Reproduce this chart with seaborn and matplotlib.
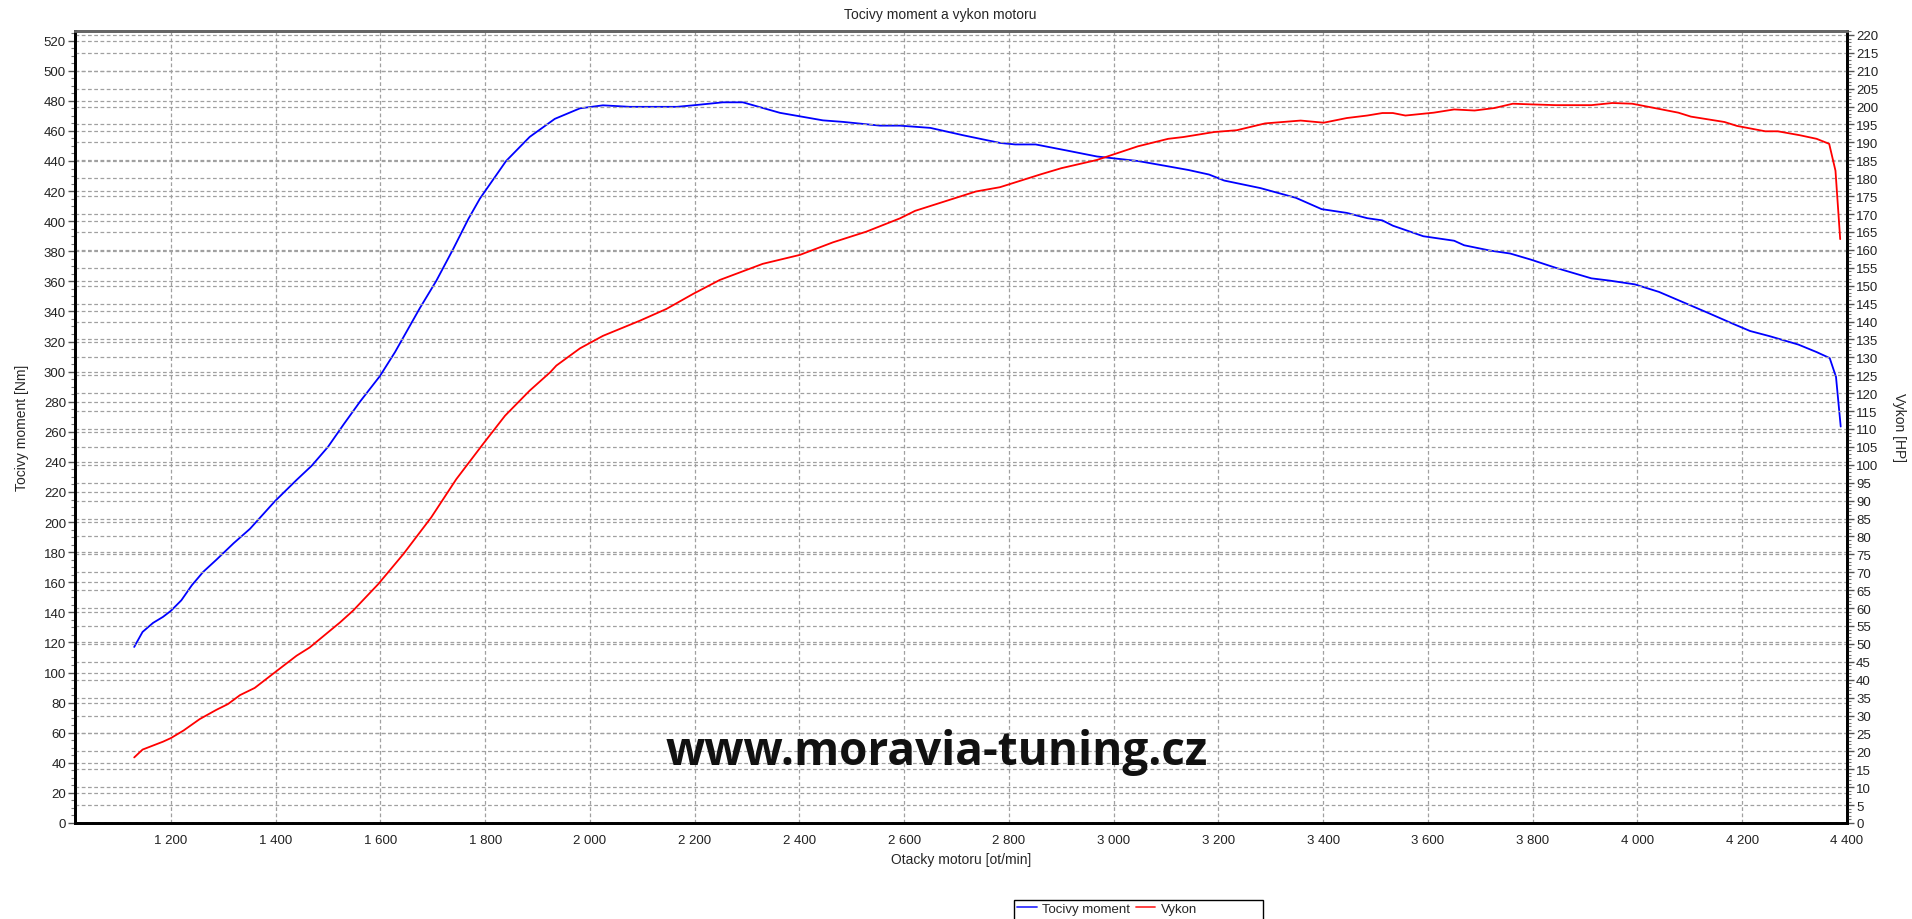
import matplotlib
matplotlib.use("Agg")
import matplotlib.pyplot as plt
import matplotlib.ticker as mticker
from matplotlib.lines import Line2D
from matplotlib.patches import Rectangle
import seaborn as sns
import pandas as pd

# ---- data ----
torque_rpm = [1130, 1146, 1166, 1185, 1200, 1220, 1240, 1262, 1287, 1320, 1351, 1399, 1440, 1469,
              1500, 1530, 1561, 1599, 1628, 1675, 1707, 1739, 1768, 1790, 1840, 1885, 1933, 1981,
              2025, 2076, 2166, 2197, 2254, 2292, 2363, 2445, 2483, 2554, 2592, 2650, 2714, 2783,
              2812, 2851, 2910, 2968, 3046, 3095, 3143, 3182, 3211, 3280, 3348, 3397, 3445, 3484,
              3513, 3533, 3591, 3650, 3669, 3718, 3757, 3796, 3844, 3912, 3947, 3995, 4041, 4088,
              4135, 4181, 4215, 4253, 4307, 4342, 4367, 4379, 4388]
torque_nm = [117, 127, 133, 137, 141, 148, 158, 167, 175, 186, 195.5, 214, 228, 237.5,
             250, 265, 280, 297, 313, 342, 360.5, 381.5, 401.5, 415, 440, 456, 468, 475,
             477, 476, 476, 477, 479, 479, 472, 467, 466, 463.5, 463.5, 462, 457, 452,
             451, 451, 447, 443, 440, 437, 434, 431, 427, 422, 415.5, 408, 405.5, 402,
             400.5, 397, 390, 387, 384, 380.5, 378.5, 374.5, 369, 362, 360.5, 358, 353, 346,
             339, 332, 327, 323.5, 318, 313, 309, 296.5, 263.5]

power_rpm = [1130, 1146, 1185, 1200, 1224, 1255, 1287, 1309, 1332, 1360, 1399, 1440, 1465, 1523,
             1548, 1596, 1644, 1697, 1745, 1796, 1838, 1885, 1924, 1936, 1981, 2025, 2095, 2146,
             2197, 2248, 2330, 2401, 2464, 2528, 2592, 2621, 2679, 2737, 2783, 2861, 2900, 2968,
             3046, 3104, 3133, 3192, 3235, 3289, 3357, 3401, 3445, 3484, 3513, 3533, 3557, 3611,
             3650, 3689, 3727, 3762, 3800, 3844, 3912, 3952, 3990, 4029, 4078, 4102, 4166, 4190,
             4244, 4268, 4310, 4342, 4366, 4378, 4387]
power_hp = [18.3, 20.5, 22.7, 23.7, 25.8, 29.0, 31.6, 33.2, 35.7, 37.7, 42.1, 46.7, 49.0, 56.0,
            59.3, 66.7, 75.1, 85.3, 96.0, 105.8, 113.7, 120.7, 125.8, 127.7, 132.5, 136.0, 140.2, 143.5,
            147.7, 151.6, 156.1, 158.6, 162.1, 165.1, 168.8, 170.9, 173.6, 176.3, 177.5, 181.1, 182.8, 185.1,
            188.9, 191.0, 191.5, 192.9, 193.4, 195.3, 196.1, 195.5, 196.8, 197.5, 198.2, 198.2, 197.5, 198.3,
            199.2, 198.9, 199.6, 200.8, 200.6, 200.4, 200.4, 201.0, 200.8, 199.7, 198.3, 197.2, 195.7, 194.6,
            193.1, 193.1, 192.0, 191.0, 189.6, 182.1, 163.0]

series_names = ["Tocivy moment", "Vykon"]
title_text = "Tocivy moment a vykon motoru"
xlabel_text = "Otacky motoru [ot/min]"
ylabel_left = "Tocivy moment [Nm]"
ylabel_right = "Vykon [HP]"
watermark = "www.moravia-tuning.cz"

df_t = pd.DataFrame({"rpm": torque_rpm, "val": torque_nm})
df_p = pd.DataFrame({"rpm": power_rpm, "val": power_hp})

# ---- style ----
sns.set_style("white")
plt.rcParams["font.family"] = ["Liberation Sans", "DejaVu Sans"]
plt.rcParams["font.size"] = 9.5

fig = plt.figure(figsize=(19.12, 9.2), dpi=100)
ax1 = fig.add_axes([75 / 1912, 1 - 824 / 920, (1847 - 75) / 1912, (824 - 32) / 920])
ax2 = ax1.twinx()

sns.lineplot(data=df_t, x="rpm", y="val", ax=ax1, color="#0000ff", lw=1.3, sort=False,
             estimator=None)
sns.lineplot(data=df_p, x="rpm", y="val", ax=ax2, color="#ff0000", lw=1.3, sort=False,
             estimator=None)

ax1.set_xlim(1017, 4400)
ax1.set_ylim(0, 526.4)
ax2.set_ylim(0, 221.1)

fmt = mticker.FuncFormatter(lambda v, p: f"{int(round(v)):,}".replace(",", " "))
ax1.xaxis.set_major_locator(mticker.MultipleLocator(200))
ax1.xaxis.set_minor_locator(mticker.MultipleLocator(50))
ax1.xaxis.set_major_formatter(fmt)
ax1.yaxis.set_major_locator(mticker.MultipleLocator(20))
ax1.yaxis.set_minor_locator(mticker.MultipleLocator(5))
ax2.yaxis.set_major_locator(mticker.MultipleLocator(5))
ax2.yaxis.set_minor_locator(mticker.MultipleLocator(1))

grid_kw = dict(color="#a0a0a0", linestyle=(0, (3, 2)), linewidth=0.9)
ax1.grid(True, axis="both", which="major", **grid_kw)
ax2.grid(True, axis="y", which="major", **grid_kw)
ax1.set_axisbelow(True)

ax1.tick_params(axis="both", which="major", direction="out", length=5, width=1,
                color="#555555", labelsize=9.5, pad=1.5, labelcolor="#222222")
ax1.tick_params(axis="both", which="minor", direction="out", length=3, width=0.8,
                color="#777777")
ax1.tick_params(axis="x", which="major", pad=3)
ax2.tick_params(axis="y", which="major", direction="out", length=5, width=1,
                color="#555555", labelsize=9.5, pad=1.5, labelcolor="#222222")
ax2.tick_params(axis="y", which="minor", direction="out", length=3, width=0.8,
                color="#777777")

for a in (ax1, ax2):
    for s in ("left", "bottom", "right"):
        a.spines[s].set_color("black")
        a.spines[s].set_linewidth(2)
    a.spines["top"].set_color("#666666")
    a.spines["top"].set_linewidth(2)

ax1.set_xlabel("")
ax1.set_ylabel("")
ax2.set_ylabel("")

fig.text(940 / 1912, 1 - 15 / 920, title_text, ha="center", va="center", fontsize=10)
fig.text(961 / 1912, 1 - 860 / 920, xlabel_text, ha="center", va="center", fontsize=10)
fig.text(22 / 1912, 1 - 428 / 920, ylabel_left, ha="center", va="center", rotation=90,
         fontsize=10)
fig.text(1899 / 1912, 1 - 428 / 920, ylabel_right, ha="center", va="center", rotation=270,
         fontsize=10)

fig.text(937 / 1912, 1 - 752 / 920, watermark, ha="center", va="center", fontsize=33,
         fontweight="bold", family=["Open Sans", "DejaVu Sans"], color="#111111")

handles = [Line2D([], [], color="#3333ff", lw=1.3), Line2D([], [], color="#ff3333", lw=1.3)]
leg = fig.legend(handles, series_names, loc="upper left",
                 bbox_to_anchor=(1016 / 1912, 1 - 902 / 920), ncol=2, fontsize=9.5,
                 frameon=False, handlelength=1.5, handletextpad=0.4, columnspacing=0.4,
                 borderpad=0.1, borderaxespad=0)
fig.add_artist(Rectangle((1014 / 1912, -0.02), (1263 - 1014) / 1912, (920 - 901) / 920 + 0.02,
                         transform=fig.transFigure, fill=False, edgecolor="black", lw=1))

fig.savefig("out.png", dpi=100)
